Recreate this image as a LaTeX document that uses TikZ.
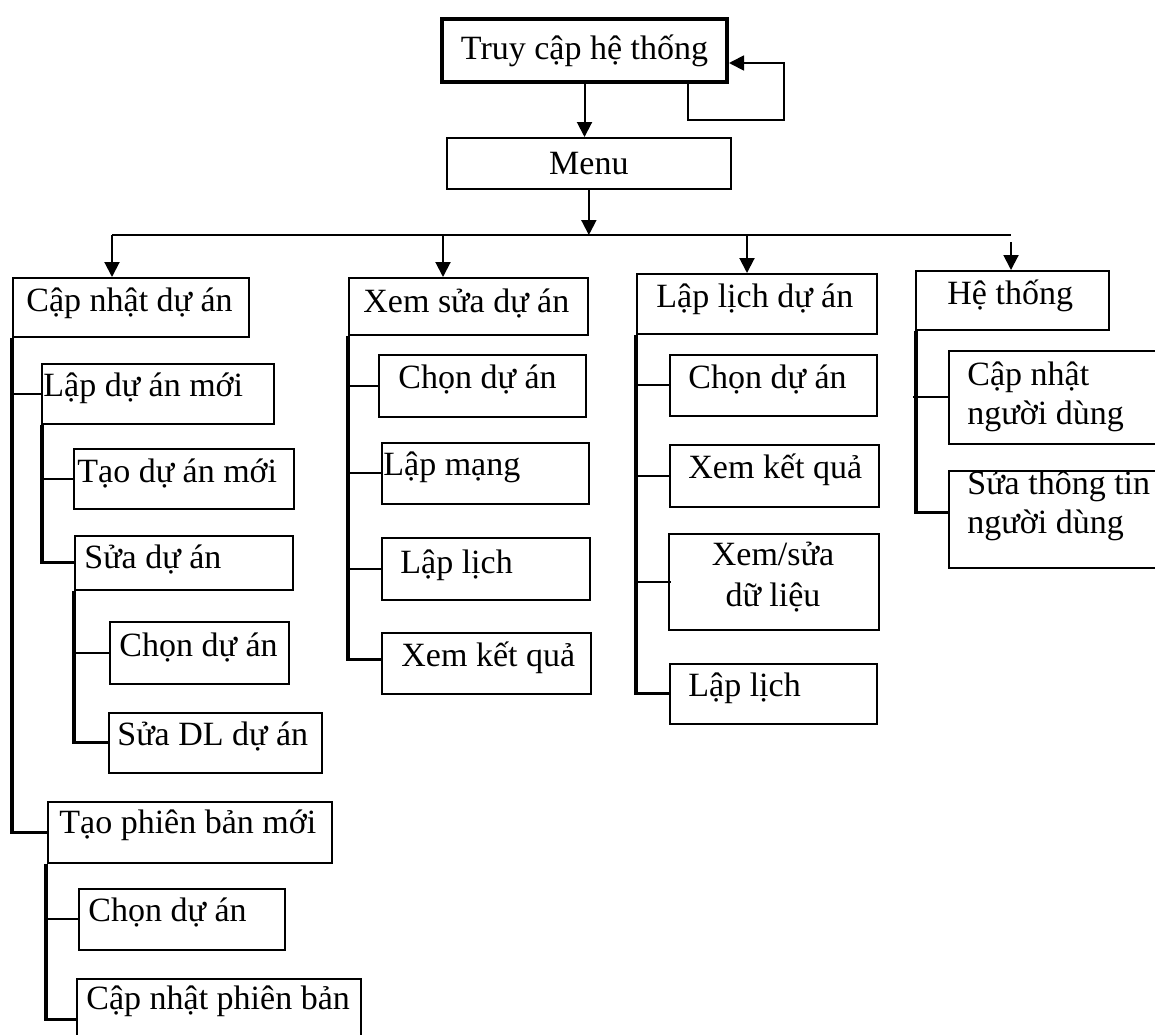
\documentclass[tikz,border=0pt]{standalone}
\usepackage{fontspec}
\setmainfont{Liberation Serif}
\usetikzlibrary{arrows.meta}
\tikzset{
  bxs/.style={draw, line width=0.85pt, rectangle, inner sep=0pt},
  topbx/.style={bxs, line width=2pt},
  txt/.style={inner sep=0pt, font=\fontsize{17}{20}\selectfont},
  conn/.style={line width=0.9pt},
  trunk/.style={line width=1.6pt},
  arr/.style={line width=1pt, -{Triangle[length=7.5pt,width=7.5pt]}},
}
\newcommand\bx[6][bxs]{\node[#1, anchor=north west, minimum width={(#5-#3)*0.5pt}, minimum height={(#6-#4)*0.5pt}] (#2) at (#3,#4) {};}
\newcommand\tx[4]{\node[txt, anchor=base west] (#1) at (#2,#3) {#4};}
\begin{document}
\begin{tikzpicture}[x=0.5pt, y=-0.5pt]
\useasboundingbox (0,0) rectangle (1155,1034);
\clip (0,0) rectangle (1155,1034);
% top
\bx[topbx]{top}{440}{17}{725}{80}
\node[txt] (topT) at (top.center) {Truy cập hệ thống};
\bx{menu}{446}{137}{730}{188}
\node[txt] (menuT) at (menu.center) {Menu};
\coordinate (lp) at (688,80);
\coordinate (lpa) at (784,120);
\draw[arr, line width=0.9pt] (lp) |- (lpa) |- ([yshift=-6.25pt]top.east);
\draw[arr] (top.south) -- (top.south |- menu.north);
\coordinate (busL) at (112,235);
\coordinate (busR) at (1011,235);
\coordinate (b2) at (443,235);
\coordinate (b3) at (747,235);
\coordinate (b4) at (1011,242);
\draw[conn, line width=1.1pt] (busL) -- (busR);
\draw[arr] (menu.south) -- (menu.south |- busL);
% column 1
\bx{c1}{12}{277}{248}{336}
\tx{c1T}{26}{311}{Cập nhật dự án}
\bx{c11}{41}{363}{273}{423}
\tx{c11T}{43}{396}{Lập dự án mới}
\bx{c111}{73}{448}{293}{508}
\tx{c111T}{77}{482}{Tạo dự án mới}
\bx{c112}{74}{535}{292}{589}
\tx{c112T}{84}{568}{Sửa dự án}
\bx{c1121}{109}{621}{288}{683}
\tx{c1121T}{119}{656}{Chọn dự án}
\bx{c1122}{108}{712}{321}{772}
\tx{c1122T}{117}{745}{Sửa DL dự án}
\bx{c12}{47}{801}{331}{862}
\tx{c12T}{59}{833}{Tạo phiên bản mới}
\bx{c121}{78}{888}{284}{949}
\tx{c121T}{88}{921}{Chọn dự án}
\bx{c122}{76}{978}{360}{1060}
\tx{c122T}{86}{1009}{Cập nhật phiên bản}
\draw[arr] (busL) -- (busL |- c1.north);
\draw[trunk] (c1.south west) |- (c12.west);
\draw[conn] (c1.south west |- c11.west) -- (c11.west);
\draw[trunk] ([xshift=0.5pt]c11.south west) |- (c112.west);
\draw[conn] ([xshift=-0.5pt]c11.south west |- c111.west) -- (c111.west);
\draw[trunk] (c112.south west) |- (c1122.west);
\draw[conn] (c112.south west |- c1121.west) -- (c1121.west);
\draw[trunk] ([xshift=-0.5pt]c12.south west) |- (c122.west);
\draw[conn] ([xshift=-1.5pt]c12.south west |- c121.west) -- (c121.west);
% column 2
\bx{c2}{348}{277}{587}{334}
\tx{c2T}{363}{312}{Xem sửa dự án}
\bx{c21}{378}{354}{585}{416}
\tx{c21T}{398}{388}{Chọn dự án}
\bx{c22}{381}{442}{588}{503}
\tx{c22T}{383}{475}{Lập mạng}
\bx{c23}{381}{537}{589}{599}
\tx{c23T}{400}{573}{Lập lịch}
\bx{c24}{381}{632}{590}{693}
\tx{c24T}{401}{666}{Xem kết quả}
\draw[arr] (b2) -- (b2 |- c2.north);
\draw[trunk] (c2.south west) |- ([yshift=2pt]c24.west);
\draw[conn] (c2.south west |- c21.west) -- (c21.west);
\draw[conn] (c2.south west |- c22.west) -- (c22.west);
\draw[conn] (c2.south west |- c23.west) -- (c23.west);
% column 3
\bx{c3}{636}{273}{876}{333}
\tx{c3T}{656}{307}{Lập lịch dự án}
\bx{c31}{669}{354}{876}{415}
\tx{c31T}{688}{388}{Chọn dự án}
\bx{c32}{669}{444}{878}{506}
\tx{c32T}{688}{478}{Xem kết quả}
\bx{c33}{668}{533}{878}{629}
\node[txt, anchor=base] (c33T) at (773,565) {Xem/sửa};
\node[txt, anchor=base] (c33U) at (773,606) {dữ liệu};
\bx{c34}{669}{663}{876}{723}
\tx{c34T}{688}{696}{Lập lịch}
\draw[arr] (b3) -- (b3 |- c3.north);
\draw[trunk] (c3.south west) |- (c34.west);
\draw[conn] (c3.south west |- c31.west) -- (c31.west);
\draw[conn] (c3.south west |- c32.west) -- (c32.west);
\draw[conn] (c3.south west |- c33.west) -- ([xshift=1.5pt]c33.west);
% column 4
\bx{c4}{915}{270}{1108}{329}
\tx{c4T}{947}{304}{Hệ thống}
\bx{c41}{948}{350}{1175}{443}
\tx{c41T}{967}{385}{Cập nhật}
\tx{c41U}{967}{424}{người dùng}
\bx{c42}{948}{470}{1175}{567}
\tx{c42T}{967}{494}{Sửa thông tin}
\tx{c42U}{967}{533}{người dùng}
\draw[arr] (b4) -- (b4 |- c4.north);
\draw[trunk] ([xshift=0.5pt]c4.south west) |- ([yshift=3.5pt]c42.west);
\draw[conn] ([xshift=-1pt]c4.south west |- c41.west) -- (c41.west);
\end{tikzpicture}
\end{document}
